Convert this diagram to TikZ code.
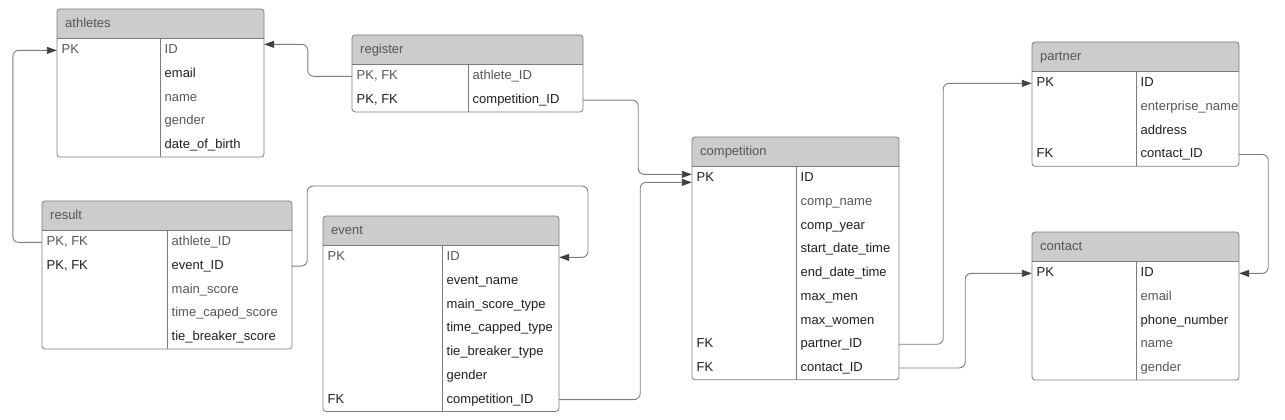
\documentclass[tikz,border=0pt]{standalone}
\usepackage{fontspec}
\setmainfont{Liberation Sans}
\usetikzlibrary{arrows.meta}
\definecolor{linegray}{HTML}{7C7C7C}
\definecolor{hdrgray}{HTML}{CCCCCC}
\definecolor{txtg}{HTML}{555555}
\definecolor{txtd}{HTML}{1E1E1E}
\tikzset{
  tblline/.style={draw=linegray, line width=0.8pt},
  rowbox/.style={rectangle, inner sep=0pt, minimum height=23.7pt},
  celltxt/.style={anchor=west, inner sep=0pt, font=\fontsize{13}{15}\selectfont,
    text height=9.5pt, text depth=2.5pt},
  hdrtxt/.style={celltxt, text=txtg},
  fk/.style={draw=linegray, line width=0.9pt, rounded corners=6pt,
    -{Triangle[length=10pt, width=7pt, color=black!75]}}
}
\newcommand{\hdrh}{29.5}
\newcommand{\rowh}{23.7}
% #1 name, #2 title, #3 left, #4 divider, #5 right, #6 top, #7 rows, #8 key/field/colour
\newcommand{\ertable}[8]{%
  \pgfmathsetmacro{\ybot}{#6+\hdrh+#7*\rowh}
  \begin{scope}
    \clip (#3,#6) rectangle (#5,{#6+\hdrh});
    \fill[hdrgray, rounded corners=3pt] (#3,#6) rectangle (#5,\ybot);
  \end{scope}
  \node[hdrtxt] (#1) at ({#3+8},{#6+\hdrh/2}) {#2};
  \foreach \kname/\fname/\clr [count=\i] in {#8} {
    \node[rowbox, minimum width={#5-#3}] (#1-\i) at ({(#3+#5)/2},{#6+\hdrh+(\i-0.5)*\rowh}) {};
    \node[celltxt, text=\clr] at ({#3+4.5},{#6+\hdrh+(\i-0.5)*\rowh}) {\kname};
    \node[celltxt, text=\clr] at ({#4+4.5},{#6+\hdrh+(\i-0.5)*\rowh}) {\fname};
  }
  \draw[tblline, rounded corners=3pt] (#3,#6) rectangle (#5,\ybot);
  \draw[tblline] (#3,{#6+\hdrh}) -- (#5,{#6+\hdrh});
  \draw[tblline] (#4,{#6+\hdrh}) -- (#4,\ybot);
}

\begin{document}
\begin{tikzpicture}[x=1pt, y=-1pt]
  \useasboundingbox (0,0) rectangle (1285,420);
  % tables
  \ertable{ath}{athletes}{57}{160}{264}{9}{5}{PK/ID/txtg, /email/txtd, /name/txtg, /gender/txtg, /date\_of\_birth/txtd}
  \ertable{reg}{register}{352}{468}{583}{35}{2}{{PK, FK}/athlete\_ID/txtg, {PK, FK}/competition\_ID/txtd}
  \ertable{res}{result}{42}{167}{292}{201}{5}{{PK, FK}/athlete\_ID/txtg, {PK, FK}/event\_ID/txtd, /main\_score/txtg, /time\_caped\_score/txtg, /tie\_breaker\_score/txtd}
  \ertable{evt}{event}{323}{442}{559}{216}{7}{PK/ID/txtg, /event\_name/txtd, /main\_score\_type/txtd, /time\_capped\_type/txtd, /tie\_breaker\_type/txtd, /gender/txtd, FK/competition\_ID/txtd}
  \ertable{com}{competition}{692}{796}{899}{137}{9}{PK/ID/txtd, /comp\_name/txtg, /comp\_year/txtd, /start\_date\_time/txtd, /end\_date\_time/txtd, /max\_men/txtd, /max\_women/txtd, FK/partner\_ID/txtd, FK/contact\_ID/txtd}
  \ertable{par}{partner}{1032}{1136}{1239}{42}{4}{PK/ID/txtd, /enterprise\_name/txtg, /address/txtd, FK/contact\_ID/txtd}
  \ertable{con}{contact}{1032}{1136}{1239}{232}{5}{PK/ID/txtd, /email/txtg, /phone\_number/txtd, /name/txtg, /gender/txtg}
  % relations
  \draw [fk] (res-1.west) -- ++(-29,0) |- (ath-1.west);
  \draw [fk] (reg-1.west) -- ++(-44,0) |- ([yshift=6pt]ath-1.east);
  \draw [fk] (reg-2.east) -- ++(55,0) |- ([yshift=4pt]com-1.west);
  \draw [fk] (evt-7.east) -- ++(81,0) |- ([yshift=-4pt]com-1.west);
  \draw [fk] (res-2.east) -- ++(15,0) |- (588,186) |- (evt-1.east);
  \draw [fk] (com-8.east) -- ++(44,0) |- (par-1.west);
  \draw [fk] (com-9.east) -- ++(66,0) |- (con-1.west);
  \draw [fk] (par-4.east) -- ++(29,0) |- (con-1.east);
\end{tikzpicture}
\end{document}
